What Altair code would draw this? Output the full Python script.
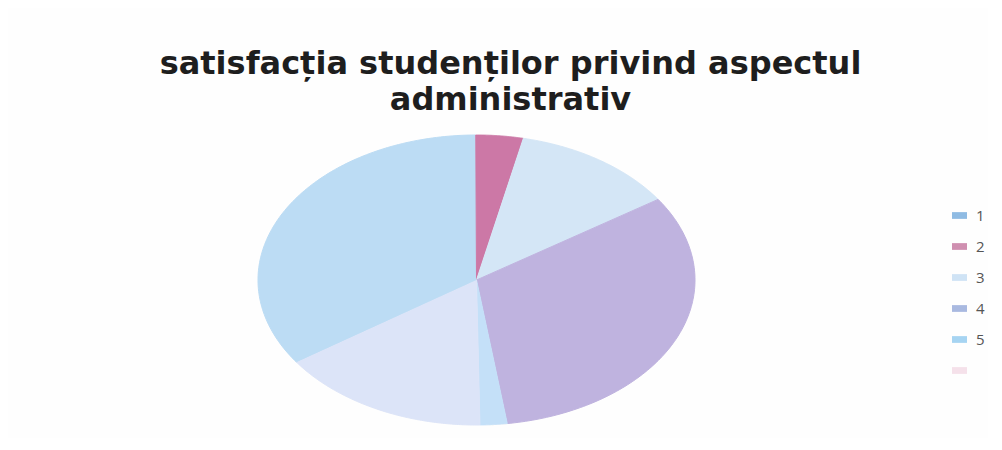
import altair as alt
import pandas as pd

# ---- data ----
categories = ["1", "2", "3", "4", "5", "6"]          # "6" is shown with an empty legend label
values = [34.6, 3.5, 12.2, 32.2, 2.0, 15.7]           # share of the pie (%)
slice_colors = ["#bcdcf4", "#cc78a6", "#d4e6f6", "#bfb3df", "#c4e0f8", "#dce4f8"]
legend_colors = ["#8fbbe3", "#cf8fb0", "#cfe3f5", "#a9b9e0", "#a6d4f2", "#f5e1ea"]
title_lines = ["satisfacția studenților privind aspectul", "administrativ"]

# ---- drawing settings ----
ROT_DEG = 235.5      # angle (clockwise from 12 o'clock) where the first slice starts
N = 120              # sampling points along each slice's rim

rows = []
for i, (c, v) in enumerate(zip(categories, values)):
    for k in range(N + 2):
        rows.append({"cat": c, "value": v, "idx": i, "k": k})
df = pd.DataFrame(rows)

rot = ROT_DEG * 3.141592653589793 / 180

base = alt.Chart(df).transform_calculate(
    w="datum.k == 0 ? datum.value : 0"
).transform_window(
    cum="sum(w)", sort=[alt.SortField("idx"), alt.SortField("k")], frame=[None, 0]
).transform_joinaggregate(
    total="sum(w)"
).transform_calculate(
    a0=f"{rot} + 2*PI*(datum.cum - datum.value)/datum.total",
    a1=f"{rot} + 2*PI*datum.cum/datum.total",
).transform_calculate(
    ang=f"datum.a0 + (datum.a1 - datum.a0)*(datum.k - 1)/{N}"
).transform_calculate(
    px="datum.k == 0 ? 0 : sin(datum.ang)",
    py="datum.k == 0 ? 0 : cos(datum.ang)",
)

xs = alt.X("px:Q", axis=None, scale=alt.Scale(domain=[-1, 1], nice=False, zero=False))
ys = alt.Y("py:Q", axis=None, scale=alt.Scale(domain=[-1, 1], nice=False, zero=False))
# data-driven domain (sorted "1".."6") so it is not merged with the legend's scale
slice_scale = alt.Scale(range=slice_colors)

slices = base.mark_line(filled=True, strokeWidth=1, interpolate="linear").encode(
    x=xs,
    y=ys,
    order=alt.Order("k:Q"),
    color=alt.Color("cat:N", scale=slice_scale, legend=None),
    stroke=alt.Stroke("cat:N", scale=slice_scale, legend=None),
)

legend_layer = base.mark_point(filled=True, size=1, opacity=0).encode(
    x=xs,
    y=ys,
    fill=alt.Fill(
        "cat:N",
        scale=alt.Scale(domain=categories, range=legend_colors),
        legend=alt.Legend(
            title=None,
            orient="none",
            legendX=694,
            legendY=73,
            symbolType="M-1,-0.45L1,-0.45L1,0.45L-1,0.45Z",
            symbolSize=225,
            symbolStrokeWidth=0,
            symbolOpacity=1,
            labelFont="Open Sans",
            labelFontSize=15,
            labelColor="#555555",
            labelOffset=9,
            rowPadding=15,
            labelExpr="datum.label == '6' ? '' : datum.label",
        ),
    ),
)

chart = alt.layer(slices, legend_layer).properties(
    width=437,
    height=290,
    padding={"left": 250, "top": 127, "right": 293, "bottom": 13},
    autosize=alt.AutoSizeParams(type="none"),
    background="#fefefe",
    title=alt.TitleParams(
        text=title_lines,
        font="DejaVu Sans",
        fontSize=32,
        fontWeight="bold",
        color="#1e1e1e",
        anchor="middle",
        dx=34,
        offset=16,
        lineHeight=36,
    ),
).configure_view(strokeWidth=0)

chart.save("out.html", embed_options={"renderer": "svg", "actions": False})
